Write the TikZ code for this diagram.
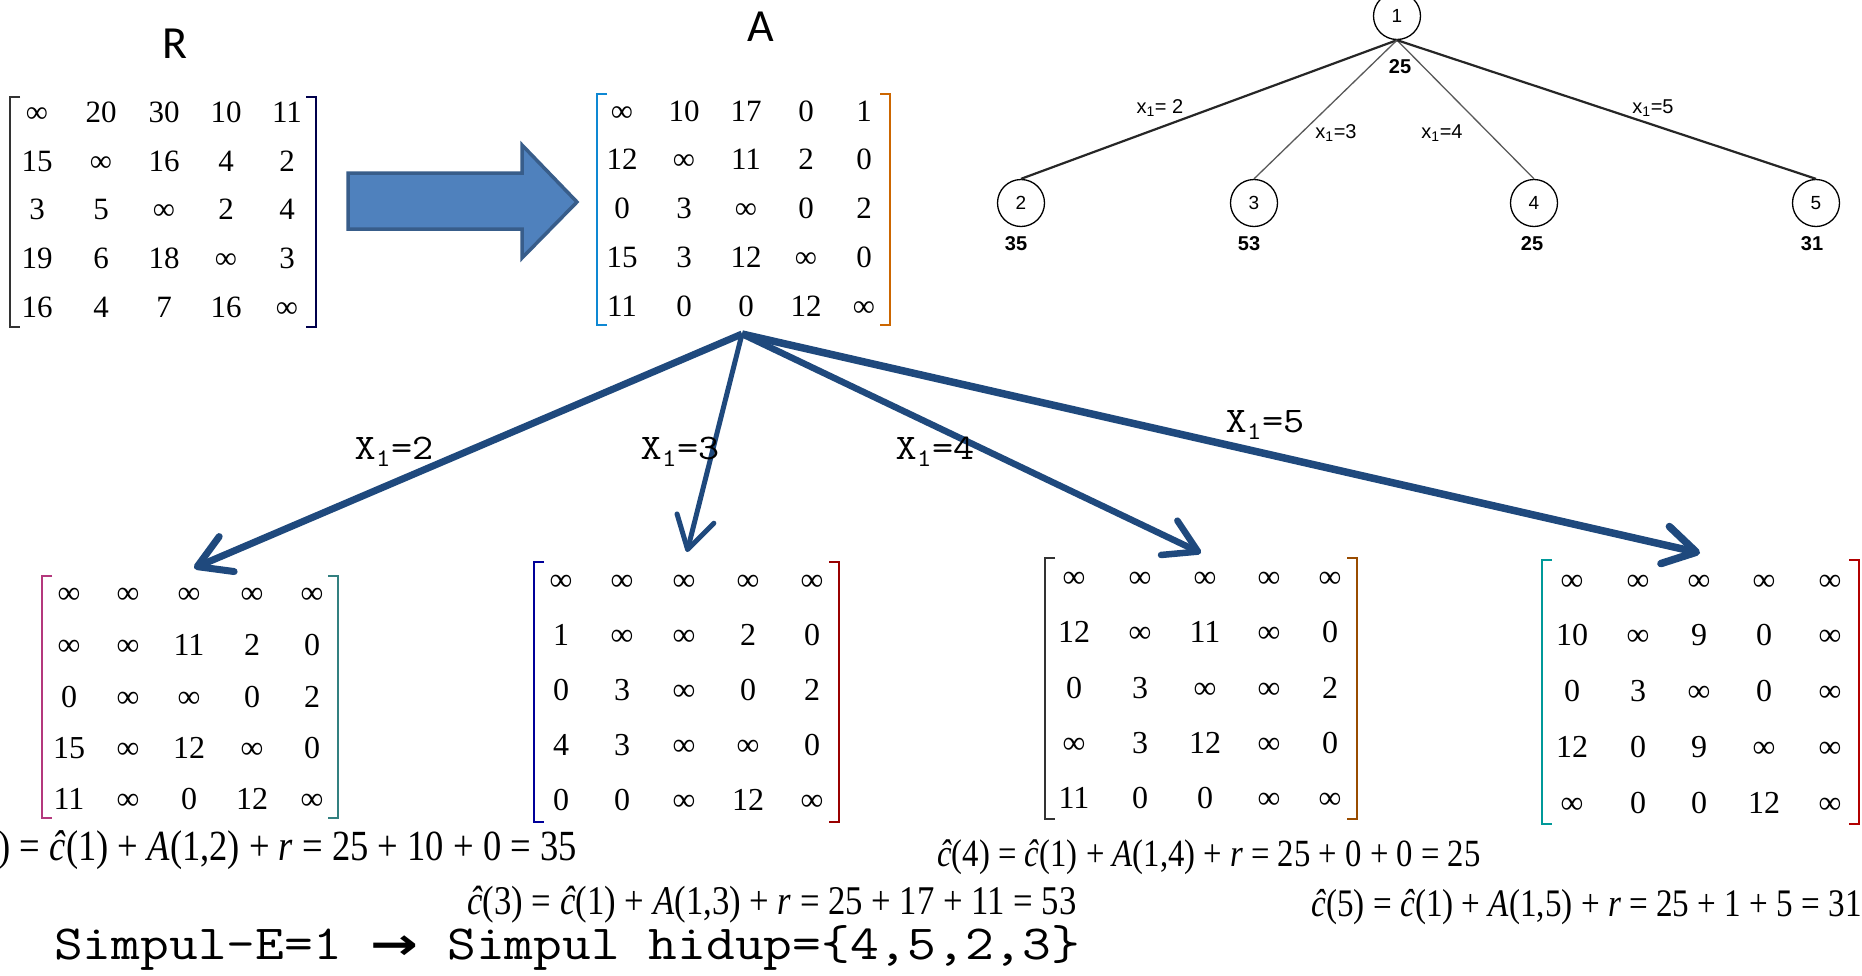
\documentclass[tikz,border=0pt]{standalone}
\usepackage{fontspec}
\setmainfont{Liberation Serif}
\newfontfamily\calfont{Carlito}
\newfontfamily\arialfont{Liberation Sans}
\newfontfamily\eqfont[FakeStretch=0.85]{Liberation Serif}
\newfontfamily\courfont[FakeStretch=1.14]{Latin Modern Mono}
\newfontfamily\djv{DejaVu Sans}
\usetikzlibrary{arrows.meta,shapes.geometric}
\definecolor{arrowblue}{RGB}{31,73,125}
\definecolor{blockfill}{RGB}{79,129,189}
\definecolor{blockdraw}{RGB}{56,93,138}
\newcommand\fs[1]{\fontsize{#1bp}{#1bp}\selectfont}
\newcommand\matrow[5]{\foreach \v [count=\ci] in {#5} {\pgfmathsetmacro\xx{{#4}[\ci-1]}\node[entry] (#1-#2-\ci) at (\xx,#3) {\v};}}
\newcommand\brk[6]{%
  \draw[bracket,#5] (#1+10,#2) -- (#1,#2) -- (#1,#4) -- (#1+10,#4);
  \draw[bracket,#6] (#3-10,#2) -- (#3,#2) -- (#3,#4) -- (#3-10,#4);}
\begin{document}
\begin{tikzpicture}[x=1bp,y=-1bp,
  entry/.style={inner sep=0pt, text depth=0pt},
  bracket/.style={line width=1.5bp},
  tnode/.style={draw, ellipse, minimum width=47bp, minimum height=47bp, inner sep=0pt, line width=1.3bp, font=\arialfont\fs{19}},
  tedgeA/.style={line width=2.2bp, black!85},
  tedgeB/.style={line width=1.3bp, black!65},
  tlab/.style={font=\arialfont\bfseries\fs{20}, inner sep=0pt},
  elab/.style={font=\arialfont\fs{20}, inner sep=0pt},
  bigarrow/.style={draw=arrowblue, -{Straight Barb[round,length=32bp,width=38bp]}},
  xlab/.style={font=\courfont\fs{36}, inner sep=0pt},
  eqn/.style={inner sep=0pt},
]
\fill[white] (0,0) rectangle (1862,975);
\useasboundingbox (0,0) rectangle (1862,975);
\clip (0,0) rectangle (1862,975);

% titles
\node[font=\calfont\fs{46}, inner sep=0pt] (Rl) at (175,44) {R};
\node[font=\calfont\fs{46}, inner sep=0pt] (Al) at (761,27) {A};

% block arrow R -> A
\draw[blockdraw, fill=blockfill, line width=3.5bp, line join=miter]
  (348,173) -- (522,173) -- (522,145) -- (577,202) -- (522,258) -- (522,229) -- (348,229) -- cycle;

% matrices R and A
\begin{scope}[font=\fs{31}, entry/.append style={text height=21bp}]
\matrow{R}{1}{112}{37,101,164,226,287}{∞,20,30,10,11}
\matrow{R}{2}{161}{37,101,164,226,287}{15,∞,16,4,2}
\matrow{R}{3}{209}{37,101,164,226,287}{3,5,∞,2,4}
\matrow{R}{4}{258}{37,101,164,226,287}{19,6,18,∞,3}
\matrow{R}{5}{307}{37,101,164,226,287}{16,4,7,16,∞}
\matrow{A}{1}{111}{622,684,746,806,864}{∞,10,17,0,1}
\matrow{A}{2}{159}{622,684,746,806,864}{12,∞,11,2,0}
\matrow{A}{3}{208}{622,684,746,806,864}{0,3,∞,0,2}
\matrow{A}{4}{257}{622,684,746,806,864}{15,3,12,∞,0}
\matrow{A}{5}{306}{622,684,746,806,864}{11,0,0,12,∞}
\end{scope}
\brk{10}{97}{316}{327}{black!80}{black!70!blue}
\brk{597}{94}{890}{325}{cyan!70!blue}{orange!80!black}

% child matrices
\begin{scope}[font=\fs{32}, entry/.append style={text height=21.6bp}]
\matrow{P}{1}{593}{69,128,189,252,312}{∞,∞,∞,∞,∞}
\matrow{P}{2}{645}{69,128,189,252,312}{∞,∞,11,2,0}
\matrow{P}{3}{697}{69,128,189,252,312}{0,∞,∞,0,2}
\matrow{P}{4}{748}{69,128,189,252,312}{15,∞,12,∞,0}
\matrow{P}{5}{799}{69,128,189,252,312}{11,∞,0,12,∞}
\matrow{Q}{1}{580}{561,622,684,748,812}{∞,∞,∞,∞,∞}
\matrow{Q}{2}{635}{561,622,684,748,812}{1,∞,∞,2,0}
\matrow{Q}{3}{690}{561,622,684,748,812}{0,3,∞,0,2}
\matrow{Q}{4}{745}{561,622,684,748,812}{4,3,∞,∞,0}
\matrow{Q}{5}{800}{561,622,684,748,812}{0,0,∞,12,∞}
\matrow{S}{1}{577}{1074,1140,1205,1269,1330}{∞,∞,∞,∞,∞}
\matrow{S}{2}{632}{1074,1140,1205,1269,1330}{12,∞,11,∞,0}
\matrow{S}{3}{688}{1074,1140,1205,1269,1330}{0,3,∞,∞,2}
\matrow{S}{4}{743}{1074,1140,1205,1269,1330}{∞,3,12,∞,0}
\matrow{S}{5}{798}{1074,1140,1205,1269,1330}{11,0,0,∞,∞}
\matrow{T}{1}{580}{1572,1638,1699,1764,1830}{∞,∞,∞,∞,∞}
\matrow{T}{2}{635}{1572,1638,1699,1764,1830}{10,∞,9,0,∞}
\matrow{T}{3}{691}{1572,1638,1699,1764,1830}{0,3,∞,0,∞}
\matrow{T}{4}{747}{1572,1638,1699,1764,1830}{12,0,9,∞,∞}
\matrow{T}{5}{803}{1572,1638,1699,1764,1830}{∞,0,0,12,∞}
\end{scope}
\brk{42}{576}{338}{818}{magenta!70!black}{teal!60!gray}
\brk{534}{562}{839}{822}{blue!60!black}{red!60!black}
\brk{1045}{558}{1357}{819}{black!80}{orange!60!black}
\brk{1542}{560}{1859}{824}{teal!80!cyan}{red!70!black}

% big arrows from A
\coordinate (apex) at (742,334);
\coordinate (t1) at (194,568);
\coordinate (t2) at (687,552);
\coordinate (t3) at (1201,553);
\coordinate (t4) at (1700,553);
\draw[bigarrow, line width=7bp] (apex) -- (t1);
\draw[bigarrow, line width=5bp] (apex) -- (t2);
\draw[bigarrow, line width=6.5bp] (apex) -- (t3);
\draw[bigarrow, line width=7.5bp] (apex) -- (t4);
\node[xlab] (x2) at (394,452) {X\textsubscript{1}=2};
\node[xlab] (x3) at (680,452) {X\textsubscript{1}=3};
\node[xlab] (x4) at (935,452) {X\textsubscript{1}=4};
\node[xlab] (x5) at (1265,425) {X\textsubscript{1}=5};

% tree
\node[tnode] (n1) at (1397,16) {1};
\node[tnode] (n2) at (1021,203) {2};
\node[tnode] (n3) at (1254,203) {3};
\node[tnode] (n4) at (1534,203) {4};
\node[tnode] (n5) at (1816,203) {5};
\draw[tedgeA] (n1.south) -- (n2.north);
\draw[tedgeB] (n1.south) -- (n3.north);
\draw[tedgeB] (n1.south) -- (n4.north);
\draw[tedgeA] (n1.south) -- (n5.north);
\node[tlab] (c1) at (1400,67) {25};
\node[tlab] (c2) at (1016,244) {35};
\node[tlab] (c3) at (1249,244) {53};
\node[tlab] (c4) at (1532,244) {25};
\node[tlab] (c5) at (1812,244) {31};
\node[elab] (e2) at (1160,108) {x\textsubscript{1}= 2};
\node[elab] (e3) at (1336,133) {x\textsubscript{1}=3};
\node[elab] (e4) at (1442,133) {x\textsubscript{1}=4};
\node[elab] (e5) at (1653,108) {x\textsubscript{1}=5};

% equations
\node[eqn, anchor=east, font=\eqfont\fs{43}] (q2) at (577,850) {\textit{ĉ}(2) = \textit{ĉ}(1) + \textit{A}(1,2) + \textit{r} = 25 + 10 + 0 = 35};
\node[eqn, anchor=west, font=\eqfont\fs{40.8}] (q3) at (467,905) {\textit{ĉ}(3) = \textit{ĉ}(1) + \textit{A}(1,3) + \textit{r} = 25 + 17 + 11 = 53};
\node[eqn, anchor=west, font=\eqfont\fs{38.5}] (q4) at (937,857) {\textit{ĉ}(4) = \textit{ĉ}(1) + \textit{A}(1,4) + \textit{r} = 25 + 0 + 0 = 25};
\node[eqn, anchor=west, font=\eqfont\fs{39}] (q5) at (1311,907) {\textit{ĉ}(5) = \textit{ĉ}(1) + \textit{A}(1,5) + \textit{r} = 25 + 1 + 5 = 31};

% bottom line
\node[anchor=base west, inner sep=0pt, font=\courfont\fs{49}] (bt) at (54,959) {Simpul-E=1 {\djv\bfseries\fs{44}\scalebox{1.3}[1]{→}} Simpul hidup=\{4,5,2,3\}};
\end{tikzpicture}
\end{document}
